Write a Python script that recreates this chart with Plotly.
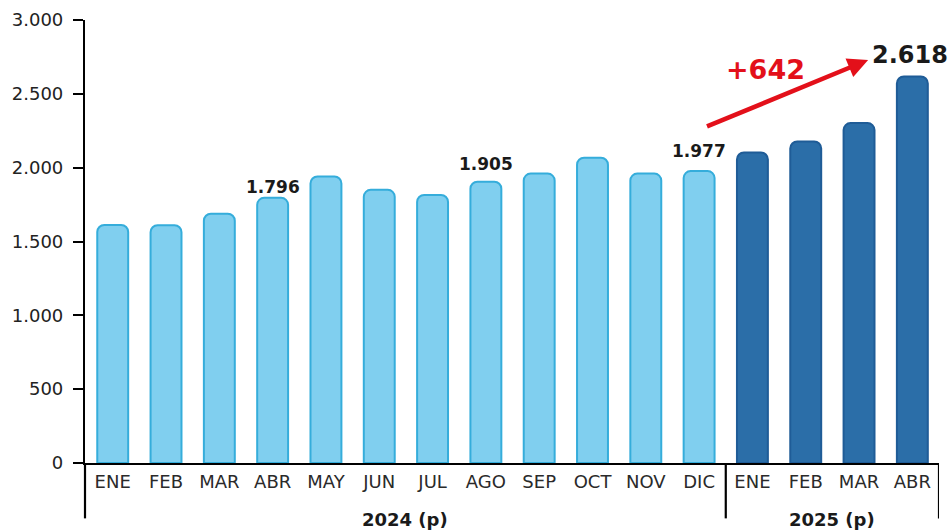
import plotly.graph_objects as go

months = ["ENE", "FEB", "MAR", "ABR", "MAY", "JUN", "JUL", "AGO", "SEP", "OCT", "NOV", "DIC",
          "ENE", "FEB", "MAR", "ABR"]
years = ["2024 (p)"] * 12 + ["2025 (p)"] * 4
values = [1612, 1610, 1688, 1796, 1940, 1850, 1815, 1905, 1960, 2068, 1960, 1977,
          2103, 2178, 2302, 2618]
labeled = {3: "1.796", 7: "1.905", 11: "1.977"}
big_label = {15: "2.618"}
delta_text = "+642"
y_ticks = [0, 500, 1000, 1500, 2000, 2500, 3000]

# pixel offsets of value labels above their bars (style only)
label_shift = {3: 11, 7: 18, 11: 20, 15: 21}

xs = list(range(len(months)))
fill = ["#80cfef" if y == "2024 (p)" else "#2b6ea8" for y in years]
edge = ["#35addb" if y == "2024 (p)" else "#1f5c97" for y in years]

FONT = "DejaVu Sans"

fig = go.Figure()
fig.add_trace(go.Bar(
    x=xs, y=values, width=0.58,
    marker=dict(color=fill, line=dict(color=edge, width=2)),
    hoverinfo="skip",
))

annotations = []
for i, t in labeled.items():
    annotations.append(dict(x=i, y=values[i], text=f"<b>{t}</b>", showarrow=False,
                            yshift=label_shift[i], yanchor="middle",
                            font=dict(family=FONT, size=17, color="#1a1a1a")))
for i, t in big_label.items():
    annotations.append(dict(x=i, y=values[i], text=f"<b>{t}</b>", showarrow=False,
                            yshift=label_shift[i], xshift=-2, yanchor="middle",
                            font=dict(family=FONT, size=24, color="#1a1a1a")))

# growth arrow from DIC 2024 region to ABR 2025 label
annotations.append(dict(x=14.17, y=2729, ax=11.12, ay=2275, xref="x", yref="y",
                        axref="x", ayref="y", showarrow=True, arrowhead=2, arrowsize=0.9,
                        arrowwidth=4.5, arrowcolor="#e3101a", text=""))
annotations.append(dict(x=12.25, y=2665, text=f"<b>{delta_text}</b>", showarrow=False,
                        font=dict(family=FONT, size=27, color="#e3101a")))

# year group labels
groups = {}
for i, y in enumerate(years):
    groups.setdefault(y, []).append(i)
for y, idx in groups.items():
    lo, hi = idx[0] - 0.5, idx[-1] + 0.5
    if idx[0] == 0:
        lo = -0.52
    annotations.append(dict(x=(lo + hi) / 2, y=-0.128, xref="x", yref="paper",
                            text=f"<b>{y}</b>", showarrow=False, yanchor="middle",
                            font=dict(family=FONT, size=18, color="#1a1a1a")))

shapes = [
    dict(type="line", xref="paper", yref="paper", x0=0, x1=0, y0=-0.125, y1=0,
         line=dict(color="black", width=2.2)),
    dict(type="line", xref="x", yref="paper", x0=11.5, x1=11.5, y0=-0.125, y1=0,
         line=dict(color="black", width=2.2)),
    dict(type="line", xref="x", yref="paper", x0=15.5, x1=15.5, y0=-0.125, y1=0,
         line=dict(color="black", width=2.2)),
]

fig.update_layout(
    width=950, height=531,
    margin=dict(l=85, r=11, t=20, b=68, autoexpand=False),
    paper_bgcolor="white", plot_bgcolor="white",
    separators=",.",
    barcornerradius=7,
    showlegend=False,
    annotations=annotations,
    shapes=shapes,
    xaxis=dict(range=[-0.52, 15.5], tickvals=xs, ticktext=months, showgrid=False,
               zeroline=False, showline=True, linecolor="black", linewidth=2.2,
               ticks="", automargin=False, ticklabelstandoff=1,
               tickfont=dict(family=FONT, size=18, color="#2a2a2a"),
               fixedrange=True),
    yaxis=dict(range=[0, 3000], tickvals=y_ticks, tickformat=",d", showgrid=False,
               zeroline=False, showline=True, linecolor="black", linewidth=2.2,
               ticks="outside", ticklen=10, tickwidth=2.2, tickcolor="black",
               automargin=False, ticklabelstandoff=6,
               tickfont=dict(family=FONT, size=18, color="#222222"),
               fixedrange=True),
)

fig.write_html("out.html", config={"displayModeBar": False},
               post_script="document.body.style.margin='0';document.body.style.overflow='hidden';")
